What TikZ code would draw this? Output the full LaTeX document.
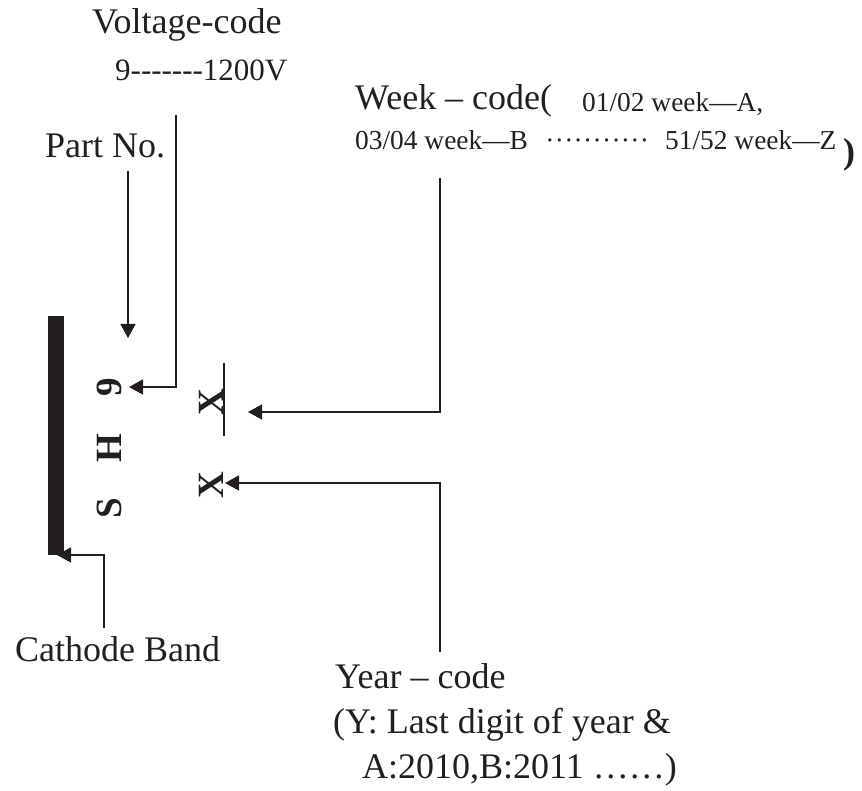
\documentclass[tikz,border=0pt]{standalone}
\usepackage{fontspec}
\setmainfont{Liberation Serif}
\usetikzlibrary{arrows.meta}
\definecolor{ink}{RGB}{35,31,32}
\newcommand\bigfs{\fontsize{36}{40}\selectfont}
\newcommand\midfs{\fontsize{31}{35}\selectfont}
\newcommand\smallfs{\fontsize{27.4}{31}\selectfont}
\newcommand\rowdots[2]{\hbox to #1pt{\cleaders\hbox to #2pt{\hss·\hss}\hfill}}
\newcommand\hy{-\kern0pt}
\begin{document}
\begin{tikzpicture}[x=1pt,y=-1pt,
  lbl/.style={anchor=base west,inner sep=0pt,text=ink},
  codechar/.style={inner sep=0pt,text=ink,rotate=90,font=\fontsize{37}{40}\selectfont\bfseries},
  conn/.style={draw=ink,line width=1.4pt},
  arr/.style={conn,-{Triangle[length=14pt,width=15pt]}}]
\useasboundingbox (0,0) rectangle (862,791);
% labels
\node[lbl,font=\bigfs] (volt) at (92,34) {Voltage-code};
\node[lbl,font=\midfs] (volt2) at (115,81) {9\hy\hy\hy\hy\hy\hy\hy 1200V};
\node[lbl,font=\bigfs] (part) at (45,158) {Part No.};
\node[lbl,font=\bigfs] (week) at (355,110) {Week -- code(};
\node[lbl,font=\smallfs] (weekA) at (582,112) {01/02 week---A,};
\node[lbl,font=\smallfs] (weekB) at (355,150) {03/04 week---B};
\node[lbl,font=\smallfs] (wdots) at (545,150) {\rowdots{104}{9.45}};
\node[lbl,font=\smallfs] (weekZ) at (665,150) {51/52 week---Z};
\node[lbl,font=\bigfs\bfseries] (wclose) at (843,164) {)};
\node[lbl,font=\bigfs] (cath) at (15,661) {Cathode Band};
\node[lbl,font=\bigfs] (year) at (335,688) {Year -- code};
\node[lbl,font=\bigfs] (year2) at (333,733) {(Y: Last digit of year \&};
\node[lbl,font=\bigfs] (year3) at (362,778) {A:2010,B:2011 ……)};
% band and marking
\fill[ink] (48,316) rectangle (64,555);
\node[codechar] (cS) at (109,508) {S};
\node[codechar] (cH) at (109,448) {H};
\node[codechar] (c9) at (109,387) {9};
\node[codechar] (cX1) at (211,402) {X};
\node[codechar] (cX2) at (211,485) {X};
\draw[conn] (224,363) -- (224,436);
% connector ends
\coordinate (ptop) at (128,171);
\coordinate (ptip) at (128,338);
\coordinate (vtop) at (176,115);
\coordinate (vtip) at (129,387);
\coordinate (wtop) at (440,178);
\coordinate (wtip) at (248,412);
\coordinate (ybot) at (440,652);
\coordinate (ytip) at (225,483);
\coordinate (cbot) at (104,628);
\coordinate (ctip) at (57,555);
\draw[arr] (ptop) -- (ptip);
\draw[arr] (vtop) |- (vtip);
\draw[arr] (wtop) |- (wtip);
\draw[arr] (ybot) |- (ytip);
\draw[arr] (cbot) |- (ctip);
\end{tikzpicture}
\end{document}
